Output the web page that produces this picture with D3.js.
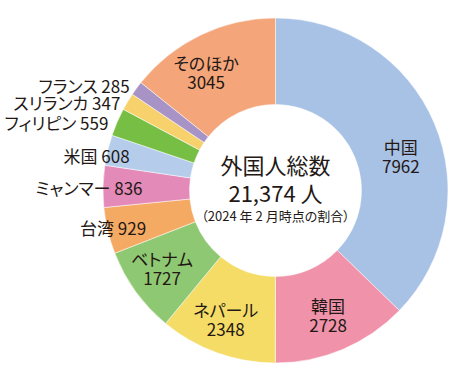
<!DOCTYPE html>
<html><head><meta charset="utf-8">
<script src="https://cdn.jsdelivr.net/npm/d3@7/dist/d3.min.js"></script>
<style>
html,body{margin:0;padding:0;background:#fff;}
svg text{font-family:"Noto Sans CJK JP","Noto Sans",sans-serif;font-feature-settings:"palt";fill:#231815;}
</style></head>
<body><svg id="c" width="459" height="382"></svg>
<script>
const categories = ["中国","韓国","ネパール","ベトナム","台湾","ミャンマー","米国","フィリピン","スリランカ","フランス","そのほか"];
const values = [7962,2728,2348,1727,929,836,608,559,347,285,3045];
const colors = ["#a8c2e6","#f093aa","#f5dc66","#8fc872","#f5aa64","#e48ab8","#b5cdeb","#77be44","#f7d26c","#a893c6","#f4a57a"];
const centerTitle = "外国人総数";
const centerTotal = "21,374 人";
const centerNote = "（2024 年 2 月時点の割合）";

// label layout (not data)
const insideLabels = new Set(["中国","韓国","ネパール","ベトナム","そのほか"]);
const insideNudge = {"中国":[1,18],"ネパール":[-4,1],"ベトナム":[-4,-2],"そのほか":[-11,3]};
const outsideLayout = {"台湾":[133,6],"ミャンマー":[133,0],"米国":[150,0],"フィリピン":[182,4],"スリランカ":[181,5],"フランス":[181,2]};

const cx = 275.5, cy = 190.5, rOuter = 172.5, rInner = 86;
const svg = d3.select("#c");
const g = svg.append("g").attr("transform",`translate(${cx},${cy})`);
const data = categories.map((c,i)=>({name:c,value:values[i],color:colors[i]}));
const pie = d3.pie().value(d=>d.value).sort(null);
const arcs = pie(data);
const arc = d3.arc().innerRadius(rInner).outerRadius(rOuter);

g.selectAll("path").data(arcs).join("path")
  .attr("d",arc).attr("fill",d=>d.data.color)
  .attr("stroke","#fff").attr("stroke-width",0.5);

const labelArc = d3.arc().innerRadius(135).outerRadius(135);
arcs.filter(d=>insideLabels.has(d.data.name)).forEach(d=>{
  const [x,y] = labelArc.centroid(d);
  const n = insideNudge[d.data.name]||[0,0];
  const t = g.append("text").attr("text-anchor","middle").attr("font-size",17)
    .attr("transform",`translate(${x+n[0]},${y+n[1]})`);
  t.append("tspan").attr("x",0).attr("y",-9).attr("dominant-baseline","central").text(d.data.name);
  t.append("tspan").attr("x",0).attr("y",10).attr("dominant-baseline","central").text(d.data.value);
});

arcs.filter(d=>!insideLabels.has(d.data.name)).forEach(d=>{
  const [r,dy] = outsideLayout[d.data.name];
  const a = d3.arc().innerRadius(r).outerRadius(r);
  const [x,y] = a.centroid(d);
  g.append("text").attr("text-anchor","end").attr("font-size",17)
    .attr("dominant-baseline","central")
    .attr("x",x).attr("y",y+dy).text(d.data.name+" "+d.data.value);
});

g.append("text").attr("text-anchor","middle").attr("dominant-baseline","central")
  .attr("font-size",22).attr("y",-27).text(centerTitle);
g.append("text").attr("text-anchor","middle").attr("dominant-baseline","central")
  .attr("font-size",22).attr("y",1).text(centerTotal);
g.append("text").attr("text-anchor","middle").attr("dominant-baseline","central")
  .attr("font-size",13).attr("y",24.5).text(centerNote);
</script></body></html>
